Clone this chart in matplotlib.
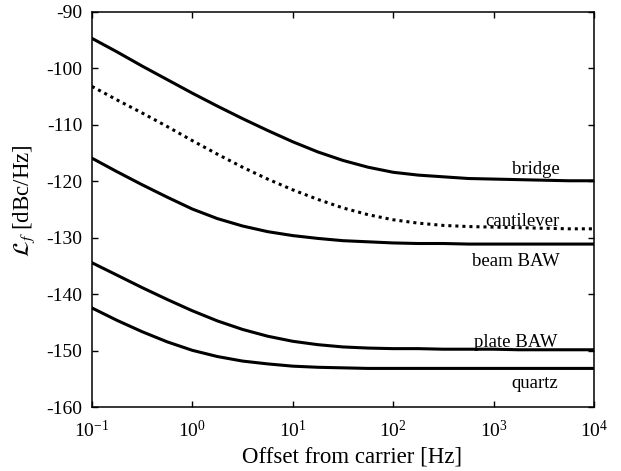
import numpy as np
import matplotlib
matplotlib.use("Agg")
import matplotlib.pyplot as plt
import matplotlib.ticker as ticker

plt.rcParams['font.family'] = ['Liberation Serif', 'DejaVu Serif']
plt.rcParams['mathtext.fontset'] = 'stix'
plt.rcParams['axes.unicode_minus'] = False

# Offset frekuensi (Hz) dan kurva noise fase (dBc/Hz)
offset = [0.1, 0.178, 0.316, 0.562, 1, 1.78, 3.16, 5.62, 10, 17.8, 31.6, 56.2,
          100, 178, 316, 562, 1000, 1780, 3160, 5620, 10000]
bridge = [-94.7, -97.1, -99.6, -102.0, -104.4, -106.7, -108.9, -111.0, -113.0,
          -114.8, -116.3, -117.5, -118.4, -118.9, -119.2, -119.5, -119.6, -119.7,
          -119.8, -119.9, -119.9]
cantilever = [-103.2, -105.6, -107.9, -110.3, -112.8, -115.2, -117.5, -119.6,
              -121.5, -123.2, -124.7, -125.9, -126.8, -127.4, -127.8, -128.0,
              -128.1, -128.2, -128.3, -128.4, -128.4]
beam_baw = [-115.9, -118.3, -120.6, -122.8, -124.9, -126.6, -127.9, -128.9,
            -129.6, -130.1, -130.5, -130.7, -130.9, -131.0, -131.0, -131.1,
            -131.1, -131.1, -131.1, -131.1, -131.1]
plate_baw = [-134.4, -136.6, -138.8, -140.9, -142.9, -144.7, -146.2, -147.4,
             -148.3, -148.9, -149.3, -149.5, -149.6, -149.6, -149.7, -149.7,
             -149.7, -149.8, -149.8, -149.8, -149.8]
quartz = [-142.4, -144.6, -146.6, -148.4, -149.9, -151.0, -151.8, -152.3,
          -152.7, -152.9, -153.0, -153.1, -153.1, -153.1, -153.1, -153.1,
          -153.1, -153.1, -153.1, -153.1, -153.1]

y_ticks = [-160, -150, -140, -130, -120, -110, -100, -90]
x_ticks = [0.1, 1, 10, 100, 1000, 10000]

# label kurva: (teks, x kanan, y tengah)
labels = [("bridge", 4580, -117.9),
          ("cantilever", 4580, -127.1),
          ("beam BAW", 4580, -134.2),
          ("plate BAW", 4300, -148.5),
          ("quartz", 4400, -155.7)]

fig = plt.figure(figsize=(6.21, 4.71), dpi=100)
ax = fig.add_axes([0.148, 0.135, 0.8085, 0.84])

lw = 2.2
ax.plot(offset, bridge, color='black', linewidth=lw)
ax.plot(offset, cantilever, color='black', linewidth=lw, linestyle=(0, (1, 1.3)),
        dash_capstyle='butt')
ax.plot(offset, beam_baw, color='black', linewidth=lw)
ax.plot(offset, plate_baw, color='black', linewidth=lw)
ax.plot(offset, quartz, color='black', linewidth=lw)

for teks, xt, yt in labels:
    ax.text(xt, yt, teks, ha='right', va='center', fontsize=13.5)

ax.set_xscale('log')
ax.set_xlim(0.1, 10000)
ax.set_ylim(-160, -90)
ax.set_xticks(x_ticks)
ax.set_yticks(y_ticks)
ax.xaxis.set_minor_locator(ticker.NullLocator())
ax.xaxis.set_major_formatter(ticker.LogFormatterSciNotation())

ax.tick_params(direction='in', top=True, right=True, length=4, width=1,
               labelsize=14)
ax.tick_params(axis='x', pad=9)
ax.tick_params(axis='y', pad=7)
for sp in ax.spines.values():
    sp.set_linewidth(1.1)

ax.set_xlabel("Offset from carrier [Hz]", fontsize=16.5)
ax.xaxis.set_label_coords(0.518, -0.1)
ax.set_ylabel(r"$\mathcal{L}_f$ [dBc/Hz]", fontsize=16.5)
ax.yaxis.set_label_coords(-0.11, 0.522)

fig.savefig("out.png", dpi=100)
